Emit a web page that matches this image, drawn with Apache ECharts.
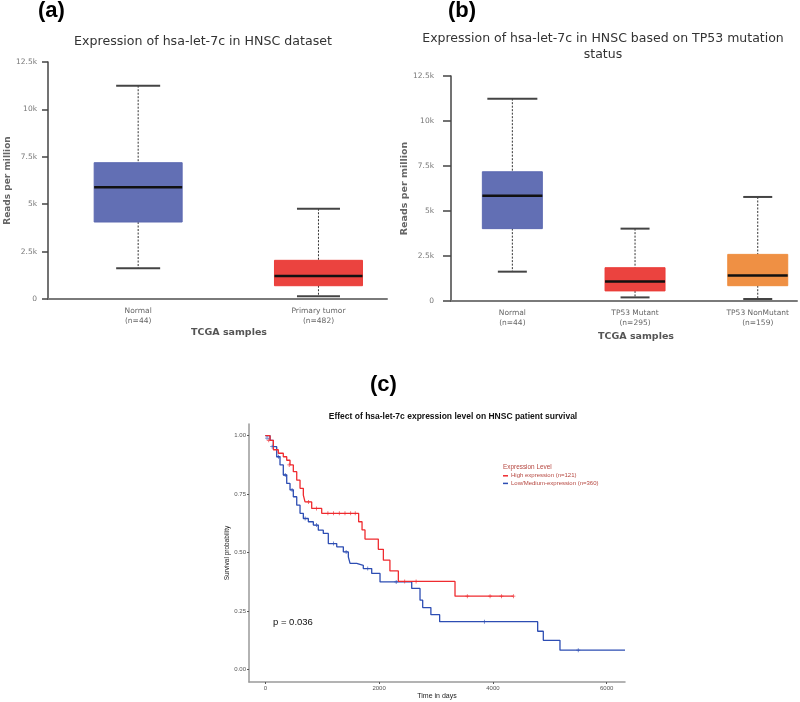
<!DOCTYPE html>
<html>
<head>
<meta charset="utf-8">
<script src="https://cdn.jsdelivr.net/npm/echarts@6/dist/echarts.min.js"></script>
<style>html,body{margin:0;padding:0;background:#fff;}#c{width:800px;height:702px;}</style>
</head>
<body>
<div id="c"></div>
<script>
// ---------- Panel (a) data ----------
const aCategories = ['Normal\n(n=44)', 'Primary tumor\n(n=482)'];
const aMin = [1620, 140];
const aQ1 = [4060, 700];
const aMed = [5890, 1210];
const aQ3 = [7190, 2040];
const aMax = [11250, 4760];

// ---------- Panel (b) data ----------
const bCategories = ['Normal\n(n=44)', 'TP53 Mutant\n(n=295)', 'TP53 NonMutant\n(n=159)'];
const bMin = [1630, 200, 110];
const bQ1 = [4020, 560, 850];
const bMed = [5850, 1090, 1410];
const bQ3 = [7180, 1850, 2590];
const bMax = [11240, 4020, 5780];

const yTicks = [0, 2500, 5000, 7500, 10000, 12500];
const yTickLabels = ['0', '2.5k', '5k', '7.5k', '10k', '12.5k'];

// ---------- Panel (c) data (Kaplan-Meier) ----------
const highName = 'High expression (n=121)';
const lowName = 'Low/Medium-expression (n=360)';
const highTimes = [0, 83, 141, 228, 316, 376, 434, 492, 552, 610, 668, 698, 815, 991, 1640, 1700, 1752, 1986, 2075, 2190, 2338, 3334, 4360];
const highSurv = [1.0, 0.98, 0.94, 0.925, 0.91, 0.895, 0.875, 0.846, 0.81, 0.775, 0.746, 0.717, 0.689, 0.668, 0.632, 0.597, 0.558, 0.514, 0.468, 0.422, 0.377, 0.314, 0.314];
const highCensorT = [60, 420, 760, 900, 1100, 1200, 1300, 1400, 1500, 1580, 2450, 2650, 3550, 3950, 4150, 4360];
const highCensorS = [0.98, 0.875, 0.717, 0.689, 0.668, 0.668, 0.668, 0.668, 0.668, 0.668, 0.377, 0.377, 0.314, 0.314, 0.314, 0.314];

const lowTimes = [0, 83, 141, 200, 258, 316, 376, 434, 492, 552, 610, 668, 756, 844, 931, 1019, 1107, 1255, 1371, 1459, 1489, 1606, 1722, 1870, 2016, 2573, 2719, 2766, 2910, 3064, 4787, 4886, 5179, 6322];
const lowSurv = [1.0, 0.98, 0.953, 0.91, 0.875, 0.832, 0.796, 0.768, 0.739, 0.703, 0.668, 0.646, 0.632, 0.618, 0.596, 0.582, 0.539, 0.525, 0.503, 0.482, 0.454, 0.446, 0.432, 0.411, 0.375, 0.347, 0.297, 0.265, 0.235, 0.205, 0.164, 0.125, 0.083, 0.083];
const lowCensorT = [30, 120, 230, 350, 470, 700, 900, 1200, 1420, 1800, 2300, 3850, 5500];
const lowCensorS = [0.99, 0.953, 0.91, 0.832, 0.768, 0.646, 0.618, 0.539, 0.503, 0.432, 0.375, 0.205, 0.083];
const survTicks = [0, 0.25, 0.5, 0.75, 1.0];
const timeTicks = [0, 2000, 4000, 6000];

// ---------- build ----------
const boxFont = 'DejaVu Sans';
function boxData(mn, q1, md, q3, mx) {
  return mn.map((v, i) => [i, mn[i], q1[i], md[i], q3[i], mx[i]]);
}
function boxRenderer(colors, boxW, capTop, capBot) {
  return function (params, api) {
    const i = api.value(0);
    const idx = params.dataIndex;
    const pMin = api.coord([i, api.value(1)]);
    const pQ1 = api.coord([i, api.value(2)]);
    const pMed = api.coord([i, api.value(3)]);
    const pQ3 = api.coord([i, api.value(4)]);
    const pMax = api.coord([i, api.value(5)]);
    const x = pMed[0];
    const dash = { stroke: '#333', lineWidth: 1, lineDash: [2, 1.5] };
    const cap = { stroke: '#444', lineWidth: 2 };
    return {
      type: 'group',
      children: [
        { type: 'line', shape: { x1: x, y1: pMax[1], x2: x, y2: pQ3[1] }, style: dash },
        { type: 'line', shape: { x1: x, y1: pQ1[1], x2: x, y2: pMin[1] }, style: dash },
        { type: 'line', shape: { x1: x - capTop[idx] / 2, y1: pMax[1], x2: x + capTop[idx] / 2, y2: pMax[1] }, style: cap },
        { type: 'line', shape: { x1: x - capBot[idx] / 2, y1: pMin[1], x2: x + capBot[idx] / 2, y2: pMin[1] }, style: cap },
        { type: 'rect', shape: { x: x - boxW / 2, y: pQ3[1], width: boxW, height: pQ1[1] - pQ3[1] },
          style: { fill: colors[idx], stroke: colors[idx], lineWidth: 1, opacity: 0.95 } },
        { type: 'line', shape: { x1: x - boxW / 2, y1: pMed[1], x2: x + boxW / 2, y2: pMed[1] },
          style: { stroke: '#111', lineWidth: 2.5 } }
      ]
    };
  };
}
function boxXAxis(gi, cats, mx) {
  return {
    type: 'value', gridIndex: gi, min: -0.5, max: mx,
    splitLine: { show: false },
    axisLine: { show: true, onZero: false, lineStyle: { color: '#7a7a7a', width: 2 } },
    axisTick: { show: false },
    axisLabel: {
      customValues: cats.map((c, i) => i),
      formatter: v => cats[Math.round(v)] || '',
      fontFamily: boxFont, fontSize: 7.5, color: '#666', lineHeight: 10, margin: 7
    }
  };
}
function boxYAxis(gi, tickLen, labMargin, nameSize, nameGap) {
  return {
    type: 'value', gridIndex: gi, min: 0, max: 12500, interval: 2500,
    splitLine: { show: false },
    axisLine: { show: true, onZero: false, lineStyle: { color: '#444', width: 1.5 } },
    axisTick: { show: true, length: tickLen, lineStyle: { color: '#444', width: 1.5 } },
    axisLabel: {
      formatter: v => yTickLabels[yTicks.indexOf(v)],
      fontFamily: boxFont, fontSize: 7.5, color: '#777', margin: labMargin
    },
    name: 'Reads per million', nameLocation: 'middle', nameGap: nameGap,
    nameTextStyle: { fontFamily: boxFont, fontSize: nameSize, fontWeight: 'bold', color: '#666' }
  };
}

const kmFont = 'Liberation Sans';
const redC = '#ef2b2f';
const blueC = '#2d4db3';
const legendC = '#b5463f';
const plusSym = 'path://M4,0h2v4h4v2h-4v4h-2v-4h-4v-2h4z';

function txt(text, left, top, style, align) {
  const t = { text: text, left: left, top: top, padding: 0, itemGap: 0, textStyle: style };
  if (align) t.textAlign = align;
  return t;
}

const option = {
  animation: false,
  backgroundColor: '#fff',
  title: [
    txt('(a)', 38, 0, { fontFamily: 'Liberation Sans', fontSize: 22, fontWeight: 'bold', color: '#000' }),
    txt('(b)', 448, 0, { fontFamily: 'Liberation Sans', fontSize: 22, fontWeight: 'bold', color: '#000' }),
    txt('(c)', 370, 374, { fontFamily: 'Liberation Sans', fontSize: 22, fontWeight: 'bold', color: '#000' }),
    txt('Expression of hsa-let-7c in HNSC dataset', 203, 35,
      { fontFamily: boxFont, fontSize: 12.6, fontWeight: 'normal', color: '#333' }, 'center'),
    txt('Expression of hsa-let-7c in HNSC based on TP53 mutation\nstatus', 603, 31,
      { fontFamily: boxFont, fontSize: 12.5, fontWeight: 'normal', color: '#333', lineHeight: 16, align: 'center' }, 'center'),
    txt('TCGA samples', 229, 328, { fontFamily: boxFont, fontSize: 9.5, fontWeight: 'bold', color: '#555' }, 'center'),
    txt('TCGA samples', 636, 332, { fontFamily: boxFont, fontSize: 9.5, fontWeight: 'bold', color: '#555' }, 'center'),
    txt('Effect of hsa-let-7c expression level on HNSC patient survival', 453, 412,
      { fontFamily: kmFont, fontSize: 8.5, fontWeight: 'bold', color: '#111' }, 'center'),
    txt('Expression Level', 503, 464.5, { fontFamily: kmFont, fontSize: 6.4, fontWeight: 'normal', color: legendC }),
    txt('p = 0.036', 273, 617, { fontFamily: kmFont, fontSize: 9.5, fontWeight: 'normal', color: '#111' })
  ],
  legend: {
    data: [highName, lowName], orient: 'vertical', left: 503, top: 472, itemGap: 0, padding: 0,
    itemWidth: 5, itemHeight: 1.5, icon: 'rect',
    textStyle: { fontFamily: kmFont, fontSize: 6, color: legendC, padding: [0, 0, 0, -2], lineHeight: 7.6 }
  },
  grid: [
    { left: 48, top: 62, width: 339, height: 237 },
    { left: 451, top: 76, width: 346, height: 225 },
    { left: 249, top: 424, width: 376, height: 258 }
  ],
  xAxis: [
    boxXAxis(0, aCategories, 1.38),
    boxXAxis(1, bCategories, 2.32),
    {
      type: 'value', gridIndex: 2, min: -287, max: 6322,
      splitLine: { show: false },
      axisLine: { show: true, onZero: false, lineStyle: { color: '#9a9a9a', width: 1.5 } },
      axisTick: { show: true, customValues: timeTicks, length: 2, lineStyle: { color: '#555' } },
      axisLabel: { customValues: timeTicks, formatter: v => String(v), fontFamily: kmFont, fontSize: 6, color: '#555', margin: 3 },
      name: 'Time in days', nameLocation: 'middle', nameGap: 11,
      nameTextStyle: { fontFamily: kmFont, fontSize: 7, color: '#222' }
    }
  ],
  yAxis: [
    boxYAxis(0, 6, 11, 9, 35),
    boxYAxis(1, 8, 17, 9.5, 36),
    {
      type: 'value', gridIndex: 2, min: -0.053, max: 1.05,
      splitLine: { show: false },
      axisLine: { show: true, onZero: false, lineStyle: { color: '#9a9a9a', width: 1.5 } },
      axisTick: { show: true, customValues: survTicks, length: 2, lineStyle: { color: '#555' } },
      axisLabel: { customValues: survTicks, formatter: v => v.toFixed(2), fontFamily: kmFont, fontSize: 6, color: '#555', margin: 3 },
      name: 'Survival probability', nameLocation: 'middle', nameGap: 13,
      nameTextStyle: { fontFamily: kmFont, fontSize: 6.5, color: '#222' }
    }
  ],
  series: [
    { type: 'custom', xAxisIndex: 0, yAxisIndex: 0, renderItem: boxRenderer(['#5a67b0', '#ea3935'], 88, [44, 43], [44, 43]),
      data: boxData(aMin, aQ1, aMed, aQ3, aMax), encode: { x: 0, y: [1, 2, 3, 4, 5] } },
    { type: 'custom', xAxisIndex: 1, yAxisIndex: 1, renderItem: boxRenderer(['#5a67b0', '#ea3935', '#ee8a3a'], 60, [50, 29, 29], [29, 29, 29]),
      data: boxData(bMin, bQ1, bMed, bQ3, bMax), encode: { x: 0, y: [1, 2, 3, 4, 5] } },
    { name: highName, type: 'line', xAxisIndex: 2, yAxisIndex: 2, step: 'end', showSymbol: false, symbol: 'none',
      lineStyle: { color: redC, width: 1.3 }, itemStyle: { color: redC }, z: 3,
      data: highTimes.map((t, i) => [t, highSurv[i]]) },
    { name: lowName, type: 'line', xAxisIndex: 2, yAxisIndex: 2, step: 'end', showSymbol: false, symbol: 'none',
      lineStyle: { color: blueC, width: 1.3 }, itemStyle: { color: blueC }, z: 2,
      data: lowTimes.map((t, i) => [t, lowSurv[i]]) },
    { type: 'scatter', xAxisIndex: 2, yAxisIndex: 2, symbol: plusSym, symbolSize: 4, itemStyle: { color: redC }, z: 4,
      data: highCensorT.map((t, i) => [t, highCensorS[i]]) },
    { type: 'scatter', xAxisIndex: 2, yAxisIndex: 2, symbol: plusSym, symbolSize: 4, itemStyle: { color: blueC }, z: 4,
      data: lowCensorT.map((t, i) => [t, lowCensorS[i]]) }
  ]
};
const chart = echarts.init(document.getElementById('c'), null, { renderer: 'canvas' });
chart.setOption(option);
</script>
</body>
</html>
